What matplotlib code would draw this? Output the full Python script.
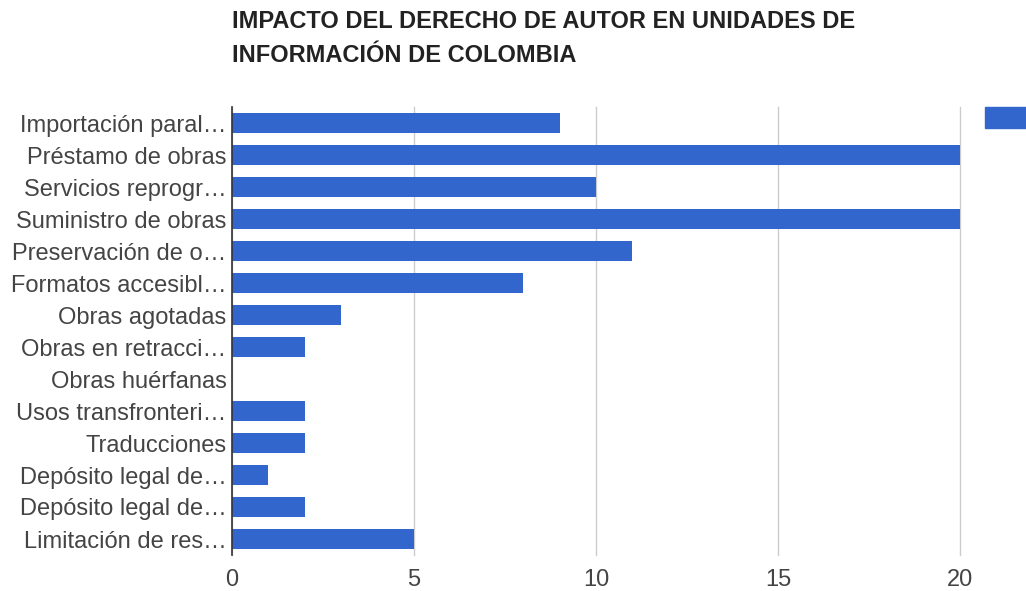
import matplotlib.pyplot as plt
from matplotlib.patches import Rectangle

plt.rcParams['font.family'] = ['Liberation Sans', 'DejaVu Sans']

# Datos
categorias = ['Importación paral…', 'Préstamo de obras', 'Servicios reprogr…',
              'Suministro de obras', 'Preservación de o…', 'Formatos accesibl…',
              'Obras agotadas', 'Obras en retracci…', 'Obras huérfanas',
              'Usos transfronteri…', 'Traducciones', 'Depósito legal de…',
              'Depósito legal de…', 'Limitación de res…']
valores = [9, 20, 10, 20, 11, 8, 3, 2, 0, 2, 2, 1, 2, 5]
ticks_x = [0, 5, 10, 15, 20]
titulo = 'IMPACTO DEL DERECHO DE AUTOR EN UNIDADES DE\nINFORMACIÓN DE COLOMBIA'

W, H = 1026, 591
fig = plt.figure(figsize=(W / 100, H / 100), dpi=100)
ax = fig.add_axes([232 / W, 1 - 555 / H, (960 - 232) / W, (555 - 107) / H])

pos = list(range(len(categorias)))
ax.barh(pos, valores, height=0.625, color='#3366cc', zorder=3)
ax.set_ylim(len(categorias) - 0.5, -0.5)
ax.set_xlim(0, 20)
ax.set_yticks(pos)
ax.set_yticklabels(categorias, fontsize=17, color='#444444')
ax.set_xticks(ticks_x)
ax.set_xticklabels([str(t) for t in ticks_x], fontsize=17, color='#444444')
ax.tick_params(axis='both', length=0)
ax.tick_params(axis='y', pad=4)
ax.tick_params(axis='x', pad=10)

for s in ['top', 'right', 'bottom']:
    ax.spines[s].set_visible(False)
ax.spines['left'].set_color('#333333')
ax.spines['left'].set_linewidth(1.2)
ax.spines['left'].set_zorder(4)
ax.xaxis.grid(True, color='#cccccc', linewidth=1, zorder=0)
for gl in ax.get_xgridlines():
    gl.set_clip_on(False)
ax.set_axisbelow(True)

fig.text(232 / W, 1 - 10 / H, titulo, ha='left', va='top', fontsize=17,
         fontweight='bold', color='#222222', linespacing=1.6)

# marcador de leyenda (recortado en el borde)
fig.patches.append(Rectangle((985 / W, 1 - 128 / H), 60 / W, 21 / H,
                             transform=fig.transFigure, color='#3366cc'))

fig.savefig('out.png', dpi=100)
